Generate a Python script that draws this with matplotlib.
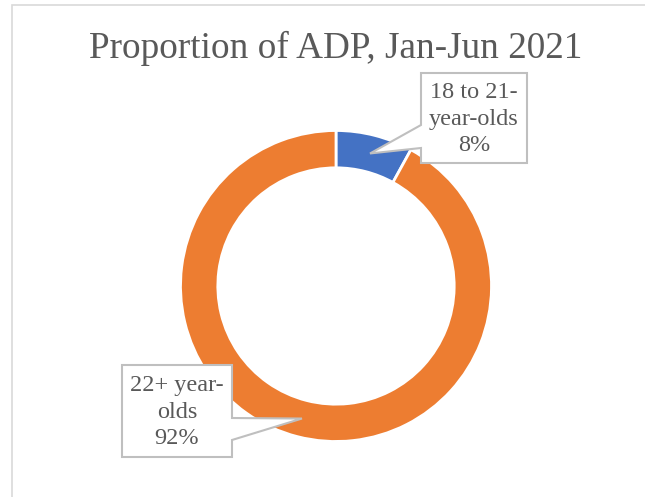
import numpy as np
import matplotlib; matplotlib.use('Agg')
import matplotlib.pyplot as plt
from matplotlib.patches import Polygon, Rectangle

# data
labels = ["18 to 21-\nyear-olds", "22+ year-\nolds"]
shares = [8, 92]
colors = ["#4472C4", "#ED7D31"]
title = "Proportion of ADP, Jan-Jun 2021"

W, H, DPI = 645, 497, 100
cx, cy, R = 336, 286, 155.5          # donut centre / radius in pixels (from top-left)
plt.rcParams['font.family'] = ['Liberation Serif', 'DejaVu Serif']

fig = plt.figure(figsize=(W / DPI, H / DPI), dpi=DPI, facecolor='white')
ax = fig.add_axes([0, 0, 1, 1])

# chart frame (only top & left visible)
fig.patches.append(Rectangle((11.5 / W, -0.05), 1.2, 1 - 5 / H + 0.05, transform=fig.transFigure,
                             fill=False, edgecolor='#D9D9D9', lw=1.2))

wedges, _ = ax.pie(shares, colors=colors, radius=1, startangle=90, counterclock=False,
                   wedgeprops=dict(width=0.24, edgecolor='white', linewidth=2))
# pie resets limits; map data units so that 1 unit = R pixels
ax.set_aspect('auto')
ax.set_xlim(-cx / R, (W - cx) / R)
ax.set_ylim(-(H - cy) / R, cy / R)
ax.axis('off')

fig.text(cx / W, 1 - 48 / H, title, ha='center', va='center', fontsize=26.8, color='#595959')

# callouts: box (left, top, right, bottom in px), side of box the pointer leaves, base span on that side
boxes = [(421, 73, 527, 163), (122, 365, 232, 457)]
bases = [(125, 148), (418, 440)]
sides = ['left', 'right']

def px(x, y):
    return ((x - cx) / R, (cy - y) / R)

total = sum(shares)
start = 90.0
for i, (lab, val) in enumerate(zip(labels, shares)):
    ang = np.deg2rad(start - 360 * val / total / 2)
    start -= 360 * val / total
    tip = (0.88 * np.cos(ang), 0.88 * np.sin(ang))
    l, t, r, b = boxes[i]
    b0, b1 = bases[i]
    if sides[i] == 'left':
        pts = [px(l, t), px(r, t), px(r, b), px(l, b), px(l, b1), tip, px(l, b0)]
    else:
        pts = [px(l, t), px(r, t), px(r, b0), tip, px(r, b1), px(r, b), px(l, b)]
    ax.add_patch(Polygon(pts, closed=True, facecolor='white', edgecolor='#BFBFBF', lw=1.5, zorder=5))
    ax.text(*px((l + r) / 2, (t + b) / 2 + 1), f"{lab}\n{val}%", ha='center', va='center',
            fontsize=17.5, color='#595959', linespacing=1.32, zorder=6)

fig.savefig("out.png", dpi=DPI, facecolor='white')
